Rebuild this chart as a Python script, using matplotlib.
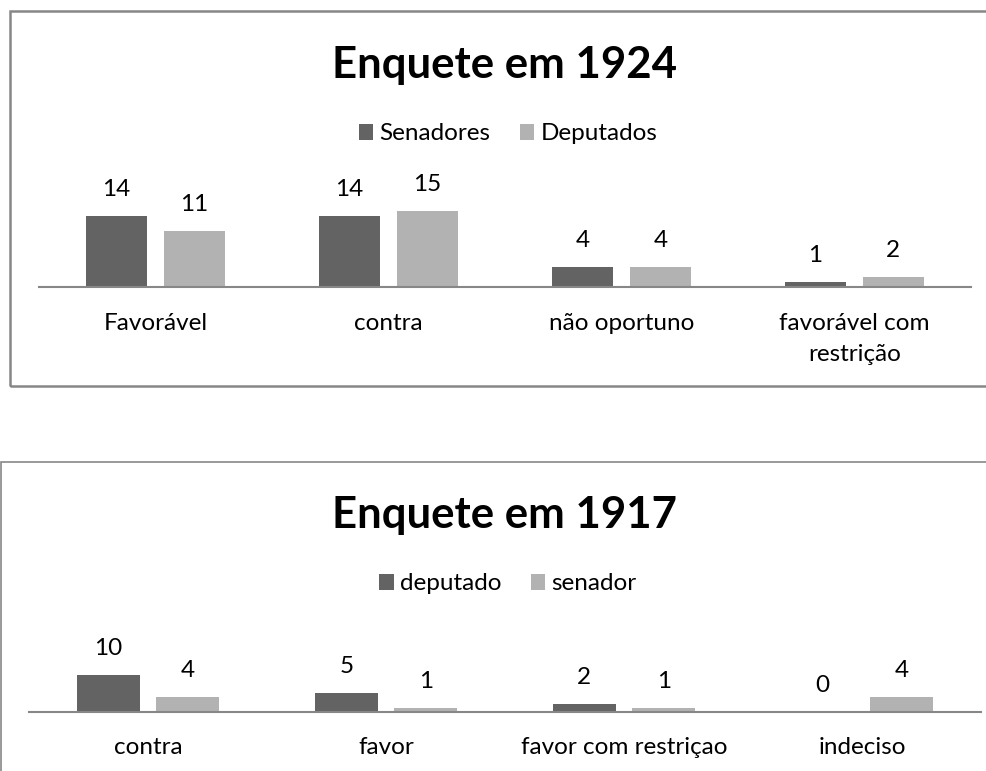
import matplotlib.pyplot as plt
import numpy as np
from matplotlib.patches import Rectangle

# --- data ---
cats_1924 = ["Favorável", "contra", "não oportuno", "favorável com\nrestrição"]
senadores_1924 = [14, 14, 4, 1]
deputados_1924 = [11, 15, 4, 2]

cats_1917 = ["contra", "favor", "favor com restriçao", "indeciso"]
deputado_1917 = [10, 5, 2, 0]
senador_1917 = [4, 1, 1, 4]

W, H = 987, 771
DARK = "#636363"
LIGHT = "#b2b2b2"
AXIS = "#878787"
FONT = ["Lato", "DejaVu Sans"]
FS = 17.5

plt.rcParams["font.family"] = FONT

fig = plt.figure(figsize=(W / 100, H / 100), dpi=100)


def px_box(x0, y_base, x1, height):
    # pixel coords (top-left origin) -> figure fraction
    return [x0 / W, 1 - y_base / H, (x1 - x0) / W, height / H]


def chart(cats, s1, s2, names, title, x0, x1, y_base, px_per_unit,
          title_y, legend_y, pad):
    ymax = 20
    ax = fig.add_axes(px_box(x0, y_base, x1, ymax * px_per_unit))
    x = np.arange(len(cats))
    w, off = 0.265, 0.167
    b1 = ax.bar(x - off, s1, w, color=DARK, label=names[0])
    b2 = ax.bar(x + off, s2, w, color=LIGHT, label=names[1])
    ax.set_xlim(-0.5, len(cats) - 0.5)
    ax.set_ylim(0, ymax)
    for sp in ("top", "left", "right"):
        ax.spines[sp].set_visible(False)
    ax.spines["bottom"].set_color(AXIS)
    ax.spines["bottom"].set_linewidth(1.5)
    ax.set_yticks([])
    ax.set_xticks(x, cats, fontsize=FS, linespacing=1.55)
    ax.tick_params(axis="x", length=0, pad=pad)
    for bars, vals in ((b1, s1), (b2, s2)):
        for rect, v in zip(bars, vals):
            ax.annotate(str(v), (rect.get_x() + rect.get_width() / 2, v),
                        xytext=(0, 19), textcoords="offset points",
                        ha="center", va="center", fontsize=FS)
    fig.text(505 / W, 1 - title_y / H, title, ha="center", va="center",
             fontsize=31.5, fontweight="bold")
    fig.legend(handles=[b1, b2], loc="center",
               bbox_to_anchor=(508 / W, 1 - legend_y / H), ncol=2,
               frameon=False, fontsize=FS, handlelength=0.6,
               handleheight=0.6, handletextpad=0.25, columnspacing=1.2)
    return ax


chart(cats_1924, senadores_1924, deputados_1924, ["Senadores", "Deputados"],
      "Enquete em 1924", 39, 971, 287, 5.07, 65, 134, 19)
chart(cats_1917, deputado_1917, senador_1917, ["deputado", "senador"],
      "Enquete em 1917", 29, 981, 711.5, 3.7, 515, 584, 18.5)

# chart frames
fig.patches.append(Rectangle((9.5 / W, 1 - 385.5 / H), 1.2, (385.5 - 11.5) / H,
                             transform=fig.transFigure, fill=False,
                             edgecolor=AXIS, linewidth=1.8))
fig.patches.append(Rectangle((1 / W, 1 - 800 / H), 1.2, (800 - 461.5) / H,
                             transform=fig.transFigure, fill=False,
                             edgecolor=AXIS, linewidth=1.2))

fig.savefig("out.png", dpi=100)
